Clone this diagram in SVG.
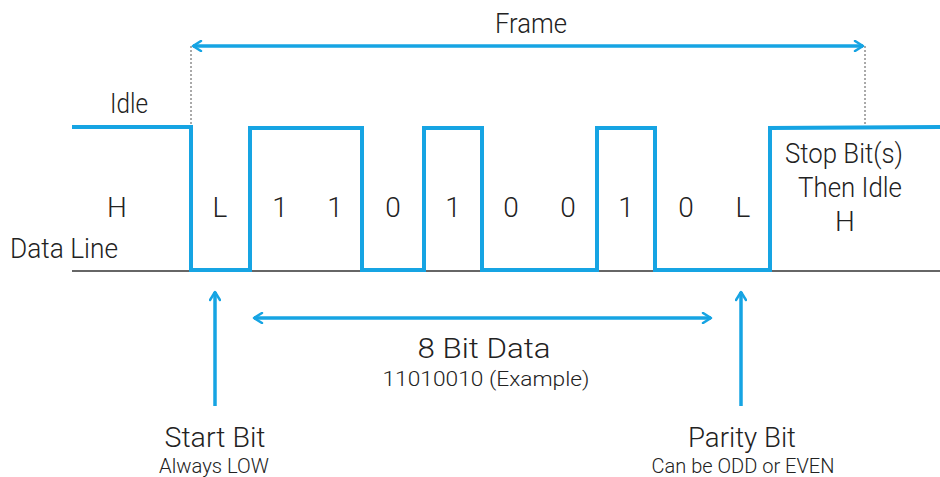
<svg xmlns="http://www.w3.org/2000/svg" width="940" height="477" viewBox="0 0 940 477">
  <style>
    .t { font-family: "Roboto", "Liberation Sans", sans-serif; font-weight: 300; fill: #222; text-anchor: middle; }
    .lg { font-size: 28px; }
    .sm { font-size: 20px; }
    .wave { fill: none; stroke: #16a4e3; stroke-width: 4; stroke-linejoin: miter; }
    .arr { fill: none; stroke: #16a4e3; stroke-width: 3.5; }
    .guide { fill: none; stroke: #555; stroke-width: 1; stroke-dasharray: 2 2; }
  </style>
  <defs>
    <marker id="head" viewBox="0 0 12 12" refX="10" refY="6" markerWidth="12" markerHeight="12" markerUnits="userSpaceOnUse" orient="auto-start-reverse">
      <path d="M2,1 L10,6 L2,11" fill="none" stroke="#16a4e3" stroke-width="2.5" stroke-linecap="round" stroke-linejoin="round"/>
    </marker>
  </defs>
  <rect width="940" height="477" fill="#fff"/>

  <!-- baseline (logic low reference) -->
  <line x1="72" y1="271" x2="940" y2="271" stroke="#333" stroke-width="1.5"/>

  <!-- frame extent guides -->
  <line class="guide" x1="191" y1="46" x2="191" y2="127"/>
  <line class="guide" x1="865" y1="46" x2="865" y2="126"/>

  <g id="connectors">
    <line class="arr" x1="193" y1="46" x2="863" y2="46" marker-start="url(#head)" marker-end="url(#head)"/>
    <line class="arr" x1="254" y1="318" x2="711" y2="318" marker-start="url(#head)" marker-end="url(#head)"/>
    <line class="arr" x1="215" y1="406" x2="215" y2="292" marker-end="url(#head)"/>
    <line class="arr" x1="741" y1="406" x2="741" y2="292" marker-end="url(#head)"/>
  </g>

  <!-- data line waveform -->
  <g id="waveform">
    <path class="wave" d="M72,127 L191,127 L191,270 L250,270 L250,128 L362,128 L362,270 L424,270 L424,128 L482,128 L482,270 L597,270 L597,128 L655,128 L655,270 L770,270 L770,128 L940,127"/>
  </g>

  <g id="frame-label"><text class="t lg" x="531" y="33" textLength="72" lengthAdjust="spacingAndGlyphs">Frame</text></g>
  <g id="idle-label"><text class="t lg" x="129" y="113" textLength="38" lengthAdjust="spacingAndGlyphs">Idle</text></g>
  <g id="data-line-label"><text class="t lg" x="64" y="258" textLength="108" lengthAdjust="spacingAndGlyphs">Data Line</text></g>

  <g id="bit-labels">
    <text class="t lg" x="117" y="217">H</text>
    <text class="t lg" x="220" y="217">L</text>
    <text class="t lg" x="280" y="217">1</text>
    <text class="t lg" x="335" y="217">1</text>
    <text class="t lg" x="393" y="217">0</text>
    <text class="t lg" x="453" y="217">1</text>
    <text class="t lg" x="511" y="217">0</text>
    <text class="t lg" x="568" y="217">0</text>
    <text class="t lg" x="626" y="217">1</text>
    <text class="t lg" x="686" y="217">0</text>
    <text class="t lg" x="743" y="217">L</text>
  </g>

  <g id="stop-bits">
    <text class="t lg" x="844" y="163" textLength="118" lengthAdjust="spacingAndGlyphs">Stop Bit(s)</text>
    <text class="t lg" x="850" y="197" textLength="104" lengthAdjust="spacingAndGlyphs">Then Idle</text>
    <text class="t lg" x="845" y="231">H</text>
  </g>

  <g id="data-bits">
    <text class="t lg" x="484" y="358" textLength="133" lengthAdjust="spacingAndGlyphs">8 Bit Data</text>
    <text class="t sm" x="486" y="386" textLength="207" lengthAdjust="spacingAndGlyphs">11010010 (Example)</text>
  </g>

  <g id="start-bit">
    <text class="t lg" x="215" y="447" textLength="101" lengthAdjust="spacingAndGlyphs">Start Bit</text>
    <text class="t sm" x="214" y="473" textLength="110" lengthAdjust="spacingAndGlyphs">Always LOW</text>
  </g>

  <g id="parity-bit">
    <text class="t lg" x="742" y="447" textLength="108" lengthAdjust="spacingAndGlyphs">Parity Bit</text>
    <text class="t sm" x="743" y="473" textLength="183" lengthAdjust="spacingAndGlyphs">Can be ODD or EVEN</text>
  </g>
</svg>
